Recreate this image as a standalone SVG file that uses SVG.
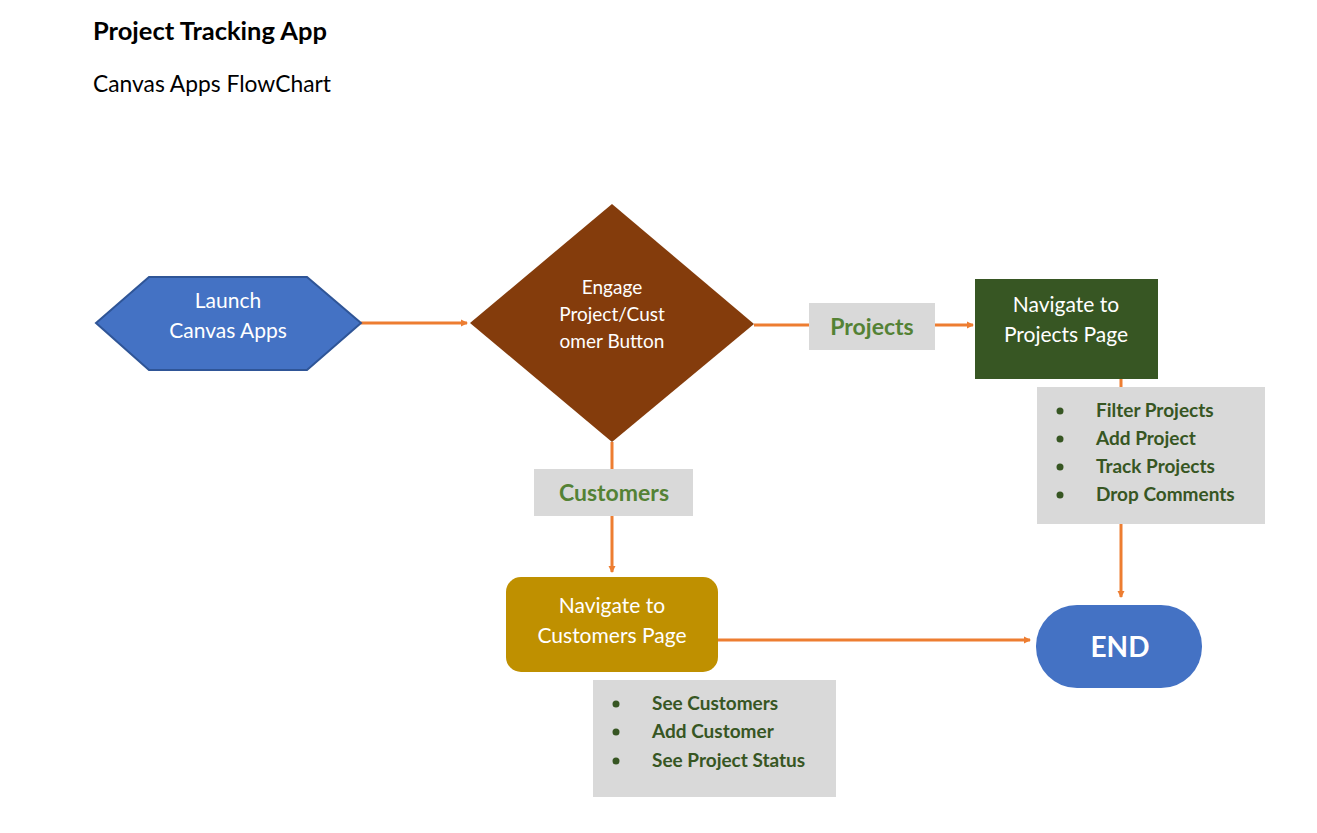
<svg xmlns="http://www.w3.org/2000/svg" width="1317" height="833" viewBox="0 0 1317 833">
<defs>
<marker id="arr" markerWidth="8" markerHeight="8" refX="6" refY="4" orient="auto" markerUnits="userSpaceOnUse">
<path d="M0,0.5 L7,4 L0,7.5 Z" fill="#ED7D31"/>
</marker>
<style>
text{font-family:Lato,"Open Sans","Liberation Sans",sans-serif}
.conn{stroke:#ED7D31;stroke-width:3;fill:none}
.wt{fill:#FFFFFF;font-size:21px;text-anchor:middle}
.dt{fill:#FFFFFF;font-size:19px;text-anchor:middle}
.lbl{fill:#D9D9D9}
.lt{fill:#548235;font-size:23px;font-weight:bold;text-anchor:middle}
.li{fill:#375623;font-size:19px;font-weight:bold}
</style>
</defs>
<rect width="1317" height="833" fill="#FFFFFF"/>
<g id="title">
<text x="93" y="40" font-size="25.5" font-weight="bold" fill="#000">Project Tracking App</text>
<text x="93" y="92" font-size="22.8" fill="#000">Canvas Apps FlowChart</text>
</g>
<g id="connectors">
<line class="conn" x1="361" y1="323" x2="467" y2="323" marker-end="url(#arr)"/>
<line class="conn" x1="754" y1="325" x2="809" y2="325"/>
<line class="conn" x1="935" y1="325" x2="973" y2="325" marker-end="url(#arr)"/>
<line class="conn" x1="1121" y1="379" x2="1121" y2="387"/>
<line class="conn" x1="1121" y1="524" x2="1121" y2="597" marker-end="url(#arr)"/>
<line class="conn" x1="612" y1="442" x2="612" y2="469"/>
<line class="conn" x1="612" y1="516" x2="612" y2="572" marker-end="url(#arr)"/>
<line class="conn" x1="718" y1="640" x2="1030" y2="640" marker-end="url(#arr)"/>
</g>
<g id="launch">
<polygon points="96,323 149,277 307,277 361,323 307,370 149,370" fill="#4472C4" stroke="#2F5597" stroke-width="2"/>
<text class="wt" x="228" y="308">Launch</text>
<text class="wt" x="228" y="338">Canvas Apps</text>
</g>
<g id="decision">
<polygon points="612,204 754,324 612,442 470,323" fill="#843C0C"/>
<text class="dt" x="612" y="294">Engage</text>
<text class="dt" x="612" y="321">Project/Cust</text>
<text class="dt" x="612" y="348">omer Button</text>
</g>
<g id="label-projects">
<rect class="lbl" x="809" y="303" width="126" height="47"/>
<text class="lt" x="872" y="335">Projects</text>
</g>
<g id="projects-page">
<rect x="975" y="279" width="183" height="100" fill="#375623"/>
<text class="wt" x="1066" y="312">Navigate to</text>
<text class="wt" x="1066" y="342">Projects Page</text>
</g>
<g id="projects-list">
<rect class="lbl" x="1037" y="387" width="228" height="137"/>
<circle cx="1060" cy="411" r="3.5" fill="#375623"/>
<circle cx="1060" cy="439" r="3.5" fill="#375623"/>
<circle cx="1060" cy="467" r="3.5" fill="#375623"/>
<circle cx="1060" cy="495" r="3.5" fill="#375623"/>
<text class="li" x="1096" y="417">Filter Projects</text>
<text class="li" x="1096" y="445">Add Project</text>
<text class="li" x="1096" y="473">Track Projects</text>
<text class="li" x="1096" y="501">Drop Comments</text>
</g>
<g id="label-customers">
<rect class="lbl" x="534" y="469" width="159" height="47"/>
<text class="lt" x="614" y="501">Customers</text>
</g>
<g id="customers-page">
<rect x="506" y="577" width="212" height="95" rx="15" fill="#BF9000"/>
<text class="wt" x="612" y="613">Navigate to</text>
<text class="wt" x="612" y="643">Customers Page</text>
</g>
<g id="customers-list">
<rect class="lbl" x="593" y="680" width="243" height="117"/>
<circle cx="616" cy="704" r="3.5" fill="#375623"/>
<circle cx="616" cy="732" r="3.5" fill="#375623"/>
<circle cx="616" cy="761" r="3.5" fill="#375623"/>
<text class="li" x="652" y="710">See Customers</text>
<text class="li" x="652" y="738">Add Customer</text>
<text class="li" x="652" y="767">See Project Status</text>
</g>
<g id="end">
<rect x="1036" y="605" width="166" height="83" rx="41" fill="#4472C4"/>
<text x="1120" y="657" font-size="28" font-weight="bold" fill="#FFFFFF" text-anchor="middle">END</text>
</g>
</svg>
